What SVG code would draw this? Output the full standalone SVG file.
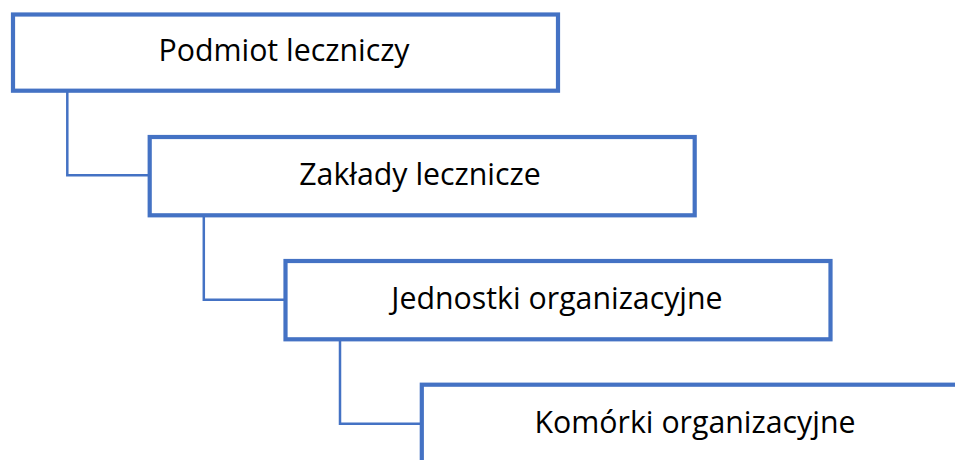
<svg xmlns="http://www.w3.org/2000/svg" width="955" height="460" viewBox="0 0 955 460">
<style>
.box{fill:#ffffff;stroke:#4472C4;stroke-width:4.2}
.conn{fill:none;stroke:#4472C4;stroke-width:2.5}
.lbl{font-family:"Open Sans","Noto Sans","Liberation Sans",sans-serif;font-size:30.3px;fill:#000000;text-anchor:middle}
</style>
<rect width="955" height="460" fill="#ffffff"/>
<g id="connectors">
<path class="conn" d="M67.3 90.7V175.3H149.7"/>
<path class="conn" d="M203.8 215.3V299.7H285.5"/>
<path class="conn" d="M340 339.3V423.7H421.8"/>
</g>
<g id="node1">
<rect class="box" x="13" y="14.5" width="545" height="76.2"/>
<text class="lbl" x="284" y="61">Podmiot leczniczy</text>
</g>
<g id="node2">
<rect class="box" x="149.7" y="137" width="545" height="78.3"/>
<text class="lbl" x="420" y="184.5">Zakłady lecznicze</text>
</g>
<g id="node3">
<rect class="box" x="285.5" y="261" width="545" height="78.3"/>
<text class="lbl" x="557" y="308.5">Jednostki organizacyjne</text>
</g>
<g id="node4">
<rect class="box" x="421.8" y="384.7" width="545" height="78.3"/>
<text class="lbl" x="695" y="433">Komórki organizacyjne</text>
</g>
</svg>
